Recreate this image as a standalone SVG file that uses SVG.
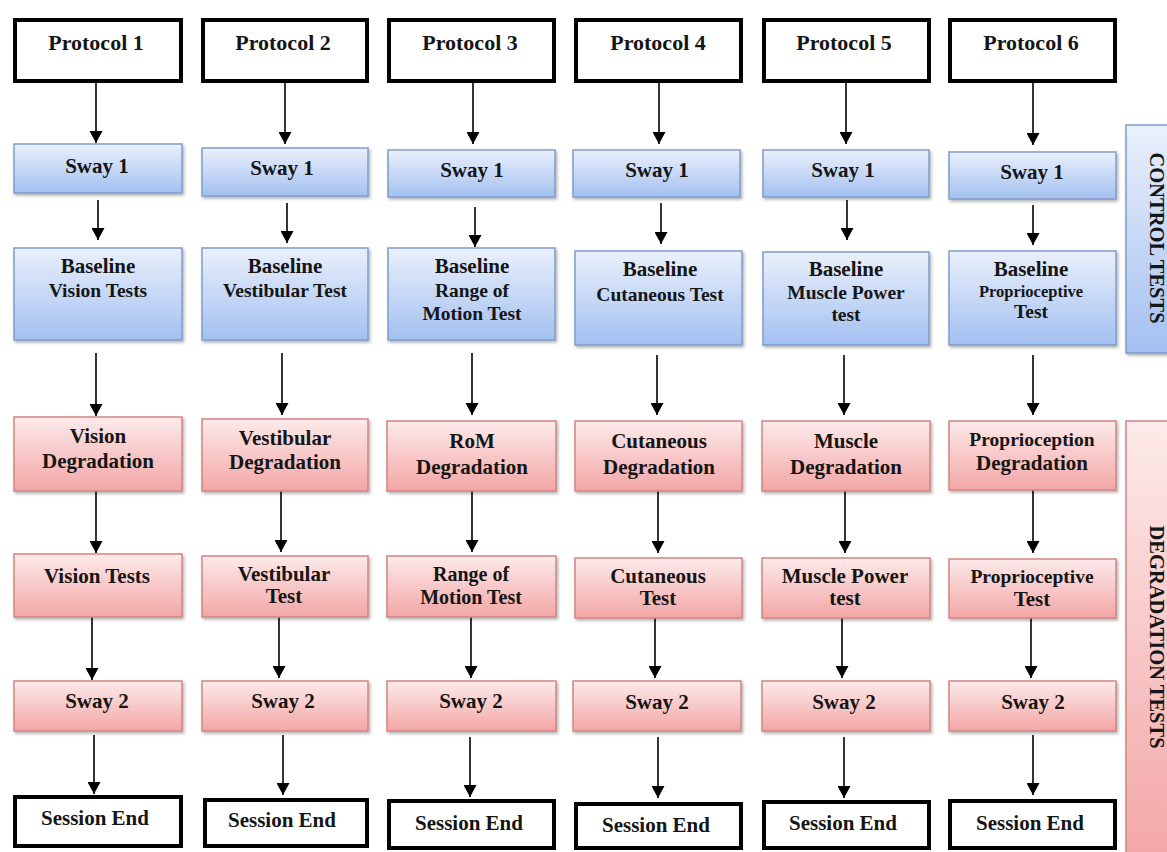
<svg xmlns="http://www.w3.org/2000/svg" width="1167" height="852" viewBox="0 0 1167 852">
<defs>
<linearGradient id="gB" x1="0" y1="0" x2="0" y2="1"><stop offset="0" stop-color="#eaf0fb"/><stop offset="1" stop-color="#a3c0f1"/></linearGradient>
<linearGradient id="gR" x1="0" y1="0" x2="0" y2="1"><stop offset="0" stop-color="#fdeaea"/><stop offset="1" stop-color="#f3a6a6"/></linearGradient>
<filter id="sh" x="-10%" y="-10%" width="120%" height="130%"><feDropShadow dx="1.5" dy="2" stdDeviation="1.5" flood-color="#000" flood-opacity="0.3"/></filter>
<marker id="ah" markerUnits="userSpaceOnUse" markerWidth="13" markerHeight="13" refX="12" refY="6.5" orient="auto"><path d="M0,0 L12,6.5 L0,13 z" fill="#000"/></marker>
</defs>
<style>
.blk{fill:#fff;stroke:#000;stroke-width:4}
.blue{fill:url(#gB);stroke:#7f9ccb;stroke-width:1.5;filter:url(#sh)}
.red{fill:url(#gR);stroke:#cf8585;stroke-width:1.5;filter:url(#sh)}
text{font-family:"Liberation Serif","Times New Roman",serif;font-weight:bold;font-size:21px;fill:#151515;text-anchor:middle}
.p{font-size:22px}
.s{font-size:19.5px}
.xs{font-size:16.5px}
.m{font-size:19.5px}
.t2{font-size:20px}
.side{font-size:20.5px}
#connectors line{stroke:#000;stroke-width:1.6;marker-end:url(#ah)}
</style>
<rect width="1167" height="852" fill="#fff"/>

<g id="connectors">
<line x1="96" y1="83" x2="96" y2="143"/>
<line x1="98" y1="200" x2="98" y2="240"/>
<line x1="96" y1="353" x2="96" y2="416"/>
<line x1="96" y1="491" x2="96" y2="553"/>
<line x1="92" y1="617" x2="92" y2="680"/>
<line x1="94" y1="735" x2="94" y2="794"/>

<line x1="285" y1="83" x2="285" y2="144"/>
<line x1="287" y1="203" x2="287" y2="243"/>
<line x1="282" y1="353" x2="282" y2="415"/>
<line x1="281" y1="491" x2="281" y2="552"/>
<line x1="279" y1="617" x2="279" y2="678"/>
<line x1="283" y1="735" x2="283" y2="795"/>

<line x1="473" y1="83" x2="473" y2="144"/>
<line x1="475" y1="207" x2="475" y2="247"/>
<line x1="472" y1="353" x2="472" y2="415"/>
<line x1="472" y1="491" x2="472" y2="552"/>
<line x1="471" y1="617" x2="471" y2="678"/>
<line x1="470" y1="737" x2="470" y2="797"/>

<line x1="659" y1="83" x2="659" y2="144"/>
<line x1="661" y1="203" x2="661" y2="244"/>
<line x1="657" y1="355" x2="657" y2="415"/>
<line x1="658" y1="491" x2="658" y2="553"/>
<line x1="655" y1="618" x2="655" y2="678"/>
<line x1="658" y1="737" x2="658" y2="798"/>

<line x1="846" y1="83" x2="846" y2="144"/>
<line x1="847" y1="200" x2="847" y2="240"/>
<line x1="844" y1="355" x2="844" y2="415"/>
<line x1="845" y1="491" x2="845" y2="553"/>
<line x1="842" y1="618" x2="842" y2="678"/>
<line x1="844" y1="737" x2="844" y2="798"/>

<line x1="1033" y1="83" x2="1033" y2="145"/>
<line x1="1033" y1="205" x2="1033" y2="245"/>
<line x1="1033" y1="355" x2="1033" y2="415"/>
<line x1="1033" y1="490" x2="1033" y2="553"/>
<line x1="1031" y1="618" x2="1031" y2="678"/>
<line x1="1033" y1="735" x2="1033" y2="795"/>
</g>

<!-- Column 1 -->
<g id="protocol1"><rect class="blk" x="15" y="20" width="166" height="61"/><text class="p" x="96" y="50">Protocol 1</text></g>
<g id="sway1_1"><rect class="blue" x="14" y="144" width="168" height="49"/><text x="97" y="173">Sway 1</text></g>
<g id="baseline1"><rect class="blue" x="14" y="248" width="168" height="92"/><text x="98" y="273">Baseline</text><text class="s" x="98" y="297">Vision Tests</text></g>
<g id="degr1"><rect class="red" x="14" y="417" width="168" height="74"/><text x="98" y="443">Vision</text><text x="98" y="468">Degradation</text></g>
<g id="test1"><rect class="red" x="14" y="554" width="168" height="63"/><text x="97" y="583">Vision Tests</text></g>
<g id="sway2_1"><rect class="red" x="14" y="681" width="168" height="50"/><text x="97" y="708">Sway 2</text></g>
<g id="end1"><rect class="blk" x="15" y="797" width="166" height="49"/><text x="95" y="825">Session End</text></g>

<!-- Column 2 -->
<g id="protocol2"><rect class="blk" x="203" y="20" width="164" height="61"/><text class="p" x="283" y="50">Protocol 2</text></g>
<g id="sway1_2"><rect class="blue" x="202" y="148" width="166" height="48"/><text x="282" y="175">Sway 1</text></g>
<g id="baseline2"><rect class="blue" x="202" y="248" width="166" height="92"/><text x="285" y="273">Baseline</text><text class="s" x="285" y="297">Vestibular Test</text></g>
<g id="degr2"><rect class="red" x="202" y="419" width="166" height="72"/><text x="285" y="445">Vestibular</text><text x="285" y="469">Degradation</text></g>
<g id="test2"><rect class="red" x="202" y="556" width="166" height="61"/><text x="284" y="581">Vestibular</text><text x="284" y="603">Test</text></g>
<g id="sway2_2"><rect class="red" x="202" y="681" width="166" height="50"/><text x="283" y="708">Sway 2</text></g>
<g id="end2"><rect class="blk" x="205" y="800" width="162" height="46"/><text x="282" y="827">Session End</text></g>

<!-- Column 3 -->
<g id="protocol3"><rect class="blk" x="389" y="20" width="165" height="61"/><text class="p" x="470" y="50">Protocol 3</text></g>
<g id="sway1_3"><rect class="blue" x="388" y="150" width="167" height="47"/><text x="472" y="177">Sway 1</text></g>
<g id="baseline3"><rect class="blue" x="388" y="248" width="167" height="92"/><text x="472" y="273">Baseline</text><text class="s" x="472" y="297">Range of</text><text class="s" x="472" y="320">Motion Test</text></g>
<g id="degr3"><rect class="red" x="387" y="421" width="169" height="70"/><text x="472" y="448">RoM</text><text x="472" y="474">Degradation</text></g>
<g id="test3"><rect class="red" x="387" y="556" width="169" height="61"/><text class="t2" x="471" y="581">Range of</text><text class="t2" x="471" y="604">Motion Test</text></g>
<g id="sway2_3"><rect class="red" x="387" y="681" width="169" height="50"/><text x="471" y="708">Sway 2</text></g>
<g id="end3"><rect class="blk" x="389" y="801" width="165" height="47"/><text x="469" y="830">Session End</text></g>

<!-- Column 4 -->
<g id="protocol4"><rect class="blk" x="576" y="20" width="165" height="61"/><text class="p" x="658" y="50">Protocol 4</text></g>
<g id="sway1_4"><rect class="blue" x="573" y="150" width="167" height="47"/><text x="657" y="177">Sway 1</text></g>
<g id="baseline4"><rect class="blue" x="575" y="251" width="167" height="94"/><text x="660" y="276">Baseline</text><text class="s" x="660" y="301">Cutaneous Test</text></g>
<g id="degr4"><rect class="red" x="575" y="421" width="167" height="70"/><text x="659" y="448">Cutaneous</text><text x="659" y="474">Degradation</text></g>
<g id="test4"><rect class="red" x="575" y="558" width="167" height="60"/><text x="658" y="583">Cutaneous</text><text x="658" y="605">Test</text></g>
<g id="sway2_4"><rect class="red" x="573" y="681" width="168" height="50"/><text x="657" y="709">Sway 2</text></g>
<g id="end4"><rect class="blk" x="576" y="804" width="165" height="44"/><text x="656" y="832">Session End</text></g>

<!-- Column 5 -->
<g id="protocol5"><rect class="blk" x="764" y="20" width="165" height="61"/><text class="p" x="844" y="50">Protocol 5</text></g>
<g id="sway1_5"><rect class="blue" x="763" y="150" width="166" height="47"/><text x="843" y="177">Sway 1</text></g>
<g id="baseline5"><rect class="blue" x="763" y="252" width="166" height="93"/><text x="846" y="276">Baseline</text><text class="s" x="846" y="299">Muscle Power</text><text class="s" x="846" y="321">test</text></g>
<g id="degr5"><rect class="red" x="762" y="421" width="168" height="70"/><text x="846" y="448">Muscle</text><text x="846" y="474">Degradation</text></g>
<g id="test5"><rect class="red" x="762" y="558" width="168" height="60"/><text x="845" y="583">Muscle Power</text><text x="845" y="605">test</text></g>
<g id="sway2_5"><rect class="red" x="762" y="681" width="168" height="50"/><text x="844" y="709">Sway 2</text></g>
<g id="end5"><rect class="blk" x="764" y="802" width="165" height="46"/><text x="843" y="830">Session End</text></g>

<!-- Column 6 -->
<g id="protocol6"><rect class="blk" x="950" y="20" width="165" height="61"/><text class="p" x="1031" y="50">Protocol 6</text></g>
<g id="sway1_6"><rect class="blue" x="949" y="152" width="167" height="47"/><text x="1032" y="179">Sway 1</text></g>
<g id="baseline6"><rect class="blue" x="949" y="251" width="167" height="94"/><text x="1031" y="276">Baseline</text><text class="xs" x="1031" y="297">Proprioceptive</text><text class="s" x="1031" y="318">Test</text></g>
<g id="degr6"><rect class="red" x="949" y="421" width="167" height="69"/><text class="m" x="1032" y="446">Proprioception</text><text x="1032" y="470">Degradation</text></g>
<g id="test6"><rect class="red" x="949" y="559" width="167" height="59"/><text class="m" x="1032" y="583">Proprioceptive</text><text x="1032" y="606">Test</text></g>
<g id="sway2_6"><rect class="red" x="949" y="681" width="167" height="50"/><text x="1033" y="709">Sway 2</text></g>
<g id="end6"><rect class="blk" x="950" y="801" width="165" height="47"/><text x="1030" y="830">Session End</text></g>

<!-- Side labels -->
<g id="control_tests"><rect class="blue" x="1126" y="125" width="50" height="228"/><text class="side" transform="translate(1150,238) rotate(90)">CONTROL TESTS</text></g>
<g id="degradation_tests"><rect class="red" x="1126" y="421" width="50" height="440"/><text class="side" transform="translate(1150,637) rotate(90)">DEGRADATION TESTS</text></g>
</svg>
